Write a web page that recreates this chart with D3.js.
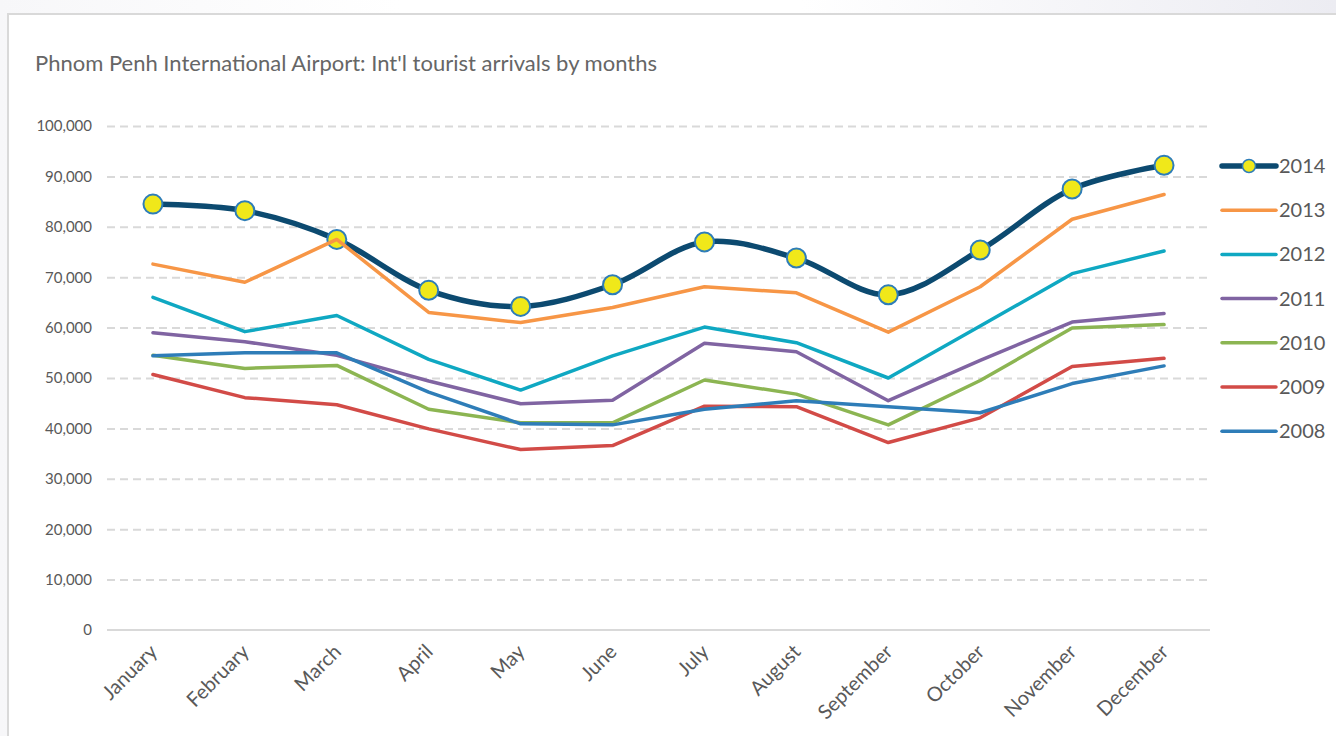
<!DOCTYPE html>
<html>
<head>
<meta charset="utf-8">
<script src="https://cdn.jsdelivr.net/npm/d3@7"></script>
<style>
  html, body { margin: 0; padding: 0; }
  body {
    width: 1336px; height: 736px; overflow: hidden;
    background: linear-gradient(90deg, #f7f7f9 0%, #ffffff 30%, #ffffff 60%, #ececf2 100%);
    font-family: Lato, 'Open Sans', sans-serif;
  }
</style>
</head>
<body>
<div id="chart"></div>
<script>
const months = ['January', 'February', 'March', 'April', 'May', 'June',
  'July', 'August', 'September', 'October', 'November', 'December'];
const years = ['2014', '2013', '2012', '2011', '2010', '2009', '2008'];
const yTicks = [0, 10000, 20000, 30000, 40000, 50000, 60000, 70000, 80000, 90000, 100000];

const v2014 = [84500, 83200, 77500, 67400, 64200, 68500, 77000, 73800, 66500, 75400, 87500, 92200];
const v2013 = [72600, 69000, 77500, 63000, 61000, 64000, 68100, 66900, 59100, 68100, 81500, 86400];
const v2012 = [66000, 59200, 62400, 53700, 47600, 54400, 60100, 57000, 50000, 60300, 70700, 75200];
const v2011 = [59000, 57200, 54500, 49400, 44900, 45600, 56900, 55200, 45500, 53500, 61100, 62800];
const v2010 = [54500, 51900, 52500, 43800, 41100, 41100, 49600, 46800, 40700, 49500, 59900, 60600];
const v2009 = [50700, 46100, 44700, 39900, 35800, 36600, 44400, 44300, 37200, 42100, 52300, 53900];
const v2008 = [54400, 55000, 55000, 47200, 40900, 40700, 43800, 45500, 44300, 43100, 48900, 52400];

const seriesValues = [v2014, v2013, v2012, v2011, v2010, v2009, v2008];
const colors = ['#0c4a70', '#f79646', '#0fa8c2', '#8064a2', '#8cb552', '#d24b47', '#2e7db8'];

const w = 1336;
const h = 736;

const svg = d3.select('#chart')
  .append('svg')
  .attr('width', w)
  .attr('height', h);

// card
svg.append('rect')
  .attr('x', 8).attr('y', 14)
  .attr('width', w + 10).attr('height', h + 10)
  .attr('fill', '#ffffff')
  .attr('stroke', '#d9d9d9')
  .attr('stroke-width', 2);

svg.append('text')
  .attr('x', 35)
  .attr('y', 71)
  .attr('fill', '#666666')
  .style('font-size', '22px')
  .text("Phnom Penh International Airport: Int'l tourist arrivals by months");

// SCALES ----------------------
const xScale = d3.scalePoint()
  .domain(months)
  .range([107, 1210])
  .padding(0.5);

const yScale = d3.scaleLinear()
  .domain([0, 100000])
  .range([630, 126]);

// GRID ------------------------
const gGrid = svg.append('g')
  .attr('transform', 'translate(107,0)')
  .call(d3.axisLeft(yScale).tickValues(yTicks.slice(1)).tickSize(-1100).tickFormat(''));
gGrid.select('.domain').remove();
gGrid.selectAll('line')
  .attr('stroke', '#d9d9d9')
  .attr('stroke-width', 2)
  .attr('stroke-dasharray', '8,5');

// Y labels
const gY = svg.append('g')
  .attr('transform', 'translate(92,0)')
  .call(d3.axisLeft(yScale).tickValues(yTicks).tickSize(0).tickFormat(d3.format(',')));
gY.select('.domain').remove();
gY.selectAll('text')
  .attr('fill', '#595959')
  .attr('x', 0)
  .style('font-size', '15px')
  .style('font-family', 'Lato, sans-serif');

// X axis
const gX = svg.append('g')
  .attr('transform', 'translate(0,630)')
  .call(d3.axisBottom(xScale).tickSize(0));
gX.select('.domain')
  .attr('d', 'M107,0H1210')
  .attr('stroke', '#d9d9d9')
  .attr('stroke-width', 2);
gX.selectAll('text')
  .attr('fill', '#595959')
  .attr('y', 0)
  .attr('dy', 0)
  .attr('transform', 'translate(5,23)rotate(-45)')
  .style('text-anchor', 'end')
  .style('font-size', '20px')
  .style('font-family', 'Lato, sans-serif');

// LINES -----------------------
const lineSmooth = d3.line()
  .x((d, i) => xScale(months[i]))
  .y((d) => yScale(d))
  .curve(d3.curveCatmullRom.alpha(0.5));

const lineStraight = d3.line()
  .x((d, i) => xScale(months[i]))
  .y((d) => yScale(d));

seriesValues.forEach((vals, k) => {
  if (k === 0) {
    svg.append('path')
      .attr('d', lineSmooth(vals))
      .attr('fill', 'none')
      .attr('stroke', colors[0])
      .attr('stroke-width', 5.5)
      .attr('stroke-linecap', 'round');
    svg.append('g').selectAll('circle')
      .data(vals)
      .enter()
      .append('circle')
      .attr('cx', (d, i) => xScale(months[i]))
      .attr('cy', (d) => yScale(d))
      .attr('r', 9.5)
      .attr('fill', '#f0e81a')
      .attr('stroke', '#2e7db8')
      .attr('stroke-width', 2);
  } else {
    svg.append('path')
      .attr('d', lineStraight(vals))
      .attr('fill', 'none')
      .attr('stroke', colors[k])
      .attr('stroke-width', 3.5)
      .attr('stroke-linejoin', 'round')
      .attr('stroke-linecap', 'round');
  }
});

// LEGEND ----------------------
const legend = svg.append('g')
  .selectAll('g')
  .data(years)
  .enter()
  .append('g')
  .attr('transform', (d, i) => `translate(1222, ${166 + i * 44.2})`);

legend.append('line')
  .attr('x1', 0).attr('x2', 54)
  .attr('stroke', (d, i) => colors[i])
  .attr('stroke-width', (d, i) => (i === 0 ? 5.5 : 3.5))
  .attr('stroke-linecap', 'round');

legend.filter((d, i) => i === 0)
  .append('circle')
  .attr('cx', 27)
  .attr('r', 6.5)
  .attr('fill', '#f0e81a')
  .attr('stroke', '#2e7db8')
  .attr('stroke-width', 1.5);

legend.append('text')
  .attr('x', 57)
  .attr('dy', '0.35em')
  .attr('fill', '#595959')
  .style('font-size', '20px')
  .text((d) => d);
</script>
</body>
</html>
